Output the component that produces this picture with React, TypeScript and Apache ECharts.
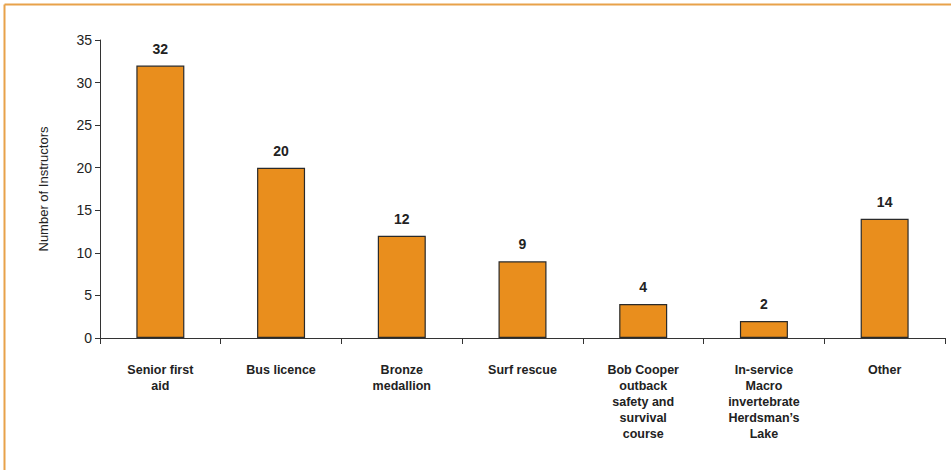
import React, { useEffect, useRef } from "react";
import * as echarts from "echarts";

const categories = [
  "Senior first\naid",
  "Bus licence",
  "Bronze\nmedallion",
  "Surf rescue",
  "Bob Cooper\noutback\nsafety and\nsurvival\ncourse",
  "In-service\nMacro\ninvertebrate\nHerdsman’s\nLake",
  "Other",
];
const values = [32, 20, 12, 9, 4, 2, 14];
const yAxisName = "Number of Instructors";

export default function App() {
  const ref = useRef<HTMLDivElement>(null);
  useEffect(() => {
    if (!ref.current) return;
    const chart = echarts.init(ref.current, null, { renderer: "svg" });
    const font = "'Liberation Sans', Arial, sans-serif";
    chart.setOption({
      animation: false,
      backgroundColor: "#ffffff",
      textStyle: { fontFamily: font },
      graphic: [
        {
          type: "line",
          shape: { x1: 4.5, y1: 4.5, x2: 951, y2: 4.5 },
          style: { stroke: "#E8A24A", lineWidth: 2 },
        },
        {
          type: "line",
          shape: { x1: 4.5, y1: 4.5, x2: 4.5, y2: 470 },
          style: { stroke: "#E8A24A", lineWidth: 2 },
        },
      ],
      grid: { left: 100, right: 6, top: 40, bottom: 132, containLabel: false },
      xAxis: {
        type: "category",
        data: categories,
        axisLine: { lineStyle: { color: "#333", width: 1 } },
        axisTick: { show: true, length: 6, lineStyle: { color: "#333" } },
        axisLabel: {
          interval: 0,
          margin: 24,
          color: "#222",
          fontSize: 12.5,
          fontWeight: "bold",
          lineHeight: 16,
          fontFamily: font,
        },
      },
      yAxis: {
        type: "value",
        min: 0,
        max: 35,
        interval: 5,
        name: yAxisName,
        nameLocation: "middle",
        nameGap: 50,
        nameTextStyle: { color: "#222", fontSize: 13, fontFamily: font },
        splitLine: { show: false },
        axisLine: { show: true, lineStyle: { color: "#333", width: 1 } },
        axisTick: { show: true, length: 5, lineStyle: { color: "#333" } },
        axisLabel: { color: "#222", fontSize: 14, margin: 8, fontFamily: font },
      },
      series: [
        {
          type: "bar",
          data: values,
          barWidth: 48,
          itemStyle: { color: "#E98E1D", borderColor: "#2a2a2a", borderWidth: 1.2 },
          label: {
            show: true,
            position: "top",
            distance: 10,
            color: "#222",
            fontSize: 14,
            fontWeight: "bold",
            fontFamily: font,
          },
        },
      ],
    });
    return () => chart.dispose();
  }, []);
  return (
    <div
      ref={ref}
      style={{ position: "absolute", left: 0, top: 0, width: 951, height: 470 }}
    />
  );
}
